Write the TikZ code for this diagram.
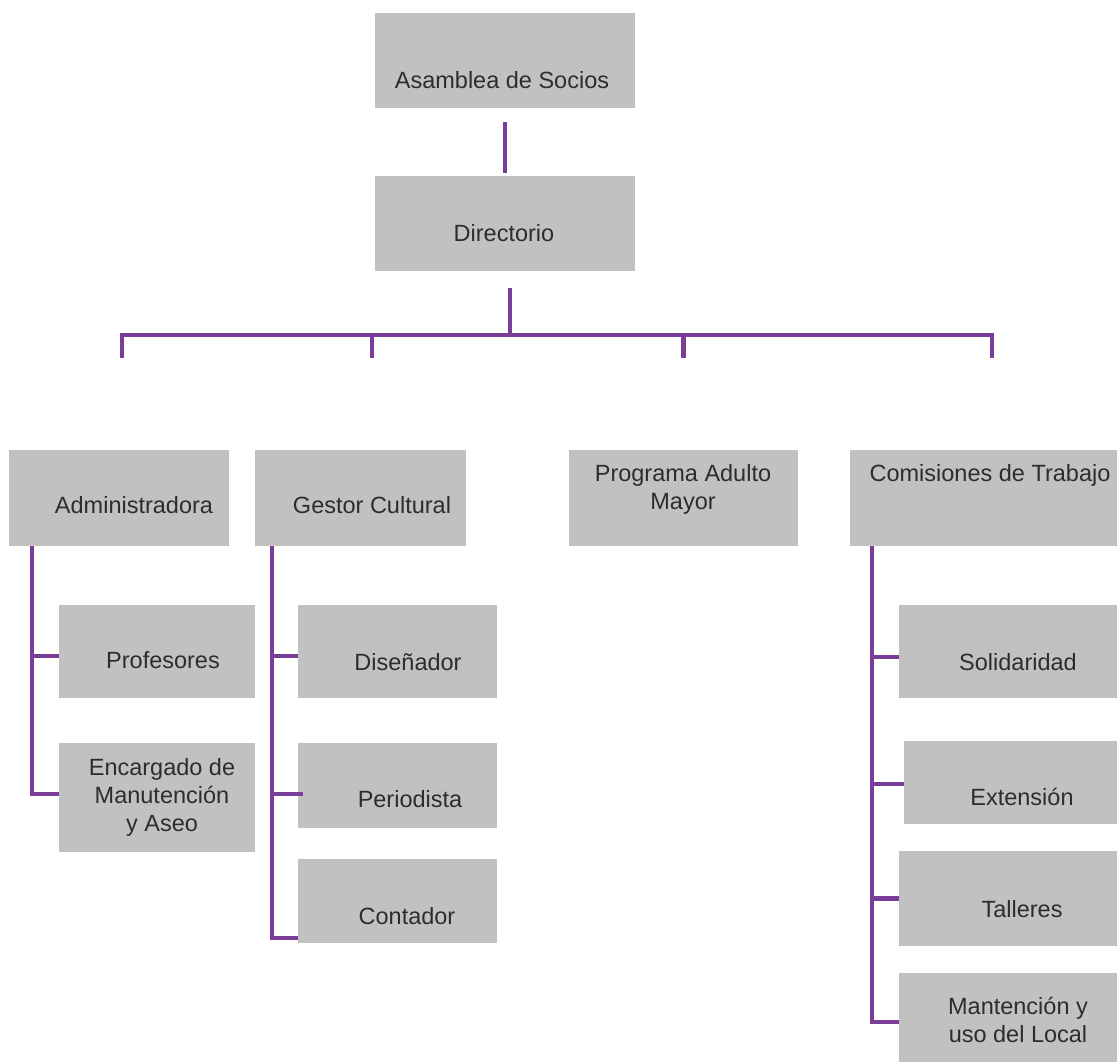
\documentclass[tikz,border=0pt]{standalone}
\usepackage{fontspec}
\setmainfont{Liberation Sans}
\usetikzlibrary{calc}
\definecolor{boxgray}{RGB}{193,193,193}
\definecolor{linepurple}{RGB}{122,62,152}
\definecolor{txtgray}{RGB}{45,45,45}
\begin{document}
\begin{tikzpicture}[x=1pt,y=-1pt,
  box/.style={fill=boxgray, draw=none, inner sep=0pt, outer sep=0pt, anchor=north west},
  lbl/.style={text=txtgray, font=\fontsize{23.5}{28}\selectfont, align=center, inner sep=0pt},
  conn/.style={draw=linepurple, line width=4.5pt, line join=miter}]
\useasboundingbox (0,0) rectangle (1117,1062);

% boxes
\node[box, minimum width=260pt, minimum height=95pt] (asm) at (375,13) {};
\node[box, minimum width=260pt, minimum height=95pt] (dir) at (375,176) {};
\node[box, minimum width=220pt, minimum height=96pt] (adm) at (9,450) {};
\node[box, minimum width=211pt, minimum height=96pt] (ges) at (255,450) {};
\node[box, minimum width=229pt, minimum height=96pt] (prg) at (569,450) {};
\node[box, minimum width=267pt, minimum height=96pt] (com) at (850,450) {};
\node[box, minimum width=196pt, minimum height=93pt] (prof) at (59,605) {};
\node[box, minimum width=196pt, minimum height=109pt] (enc) at (59,743) {};
\node[box, minimum width=199pt, minimum height=93pt] (dis) at (298,605) {};
\node[box, minimum width=199pt, minimum height=85pt] (per) at (298,743) {};
\node[box, minimum width=199pt, minimum height=84pt] (con) at (298,859) {};
\node[box, minimum width=218pt, minimum height=93pt] (sol) at (899,605) {};
\node[box, minimum width=213pt, minimum height=83pt] (ext) at (904,741) {};
\node[box, minimum width=218pt, minimum height=95pt] (tal) at (899,851) {};
\node[box, minimum width=218pt, minimum height=89pt] (man) at (899,973) {};

% labels
\node[lbl] (asmT) at (502,80) {Asamblea de Socios};
\node[lbl] (dirT) at (504,233) {Directorio};
\node[lbl] (admT) at (134,505) {Administradora};
\node[lbl] (gesT) at (372,505) {Gestor Cultural};
\node[lbl] (prgT) at (683,489) {Programa Adulto\\Mayor};
\node[lbl] (comT) at (990,475) {Comisiones de Trabajo};
\node[lbl] (profT) at (163,660) {Profesores};
\node[lbl] (encT) at (162,797) {Encargado de\\Manutención\\y Aseo};
\node[lbl] (disT) at (408,662) {Diseñador};
\node[lbl] (perT) at (410,799) {Periodista};
\node[lbl] (conT) at (407,916) {Contador};
\node[lbl] (solT) at (1018,662) {Solidaridad};
\node[lbl] (extT) at (1022,797) {Extensión};
\node[lbl] (talT) at (1022,909) {Talleres};
\node[lbl] (manT) at (1018,1020) {Mantención y\\uso del Local};

% connectors
\coordinate (bar) at (510,335);
\draw[conn, shorten <=14pt, shorten >=3pt] (asm.south) -- (dir.north);
\draw[conn, shorten <=17pt] ([xshift=5pt]dir.south) -- (bar);
\draw[conn, shorten >=92pt] (bar) -| ([xshift=3pt]adm.north);
\draw[conn, shorten >=92pt] (bar) -| ([xshift=11.5pt]ges.north);
\draw[conn, shorten >=92pt] (bar) -| (prg.north);
\draw[conn, shorten >=92pt] (bar) -| ([xshift=8.5pt]com.north);

\draw[conn] ([xshift=23pt]adm.south west) |- ([yshift=-4.5pt]prof.west);
\draw[conn] ([xshift=23pt]adm.south west) |- ([yshift=3.5pt]enc.west);

\draw[conn] ([xshift=17pt]ges.south west) |- ([yshift=-4.5pt]dis.west);
\draw[conn] ([xshift=17pt]ges.south west) |- ([xshift=5pt,yshift=-8.5pt]per.west);
\draw[conn] ([xshift=17pt]ges.south west) |- ([yshift=-37pt]con.west);

\draw[conn] ([xshift=22pt]com.south west) |- ([yshift=-5.5pt]sol.west);
\draw[conn] ([xshift=22pt]com.south west) |- ([yshift=-1.5pt]ext.west);
\draw[conn] ([xshift=22pt]com.south west) |- (tal.west);
\draw[conn] ([xshift=22pt]com.south west) |- ([yshift=-4.5pt]man.west);
\end{tikzpicture}
\end{document}
